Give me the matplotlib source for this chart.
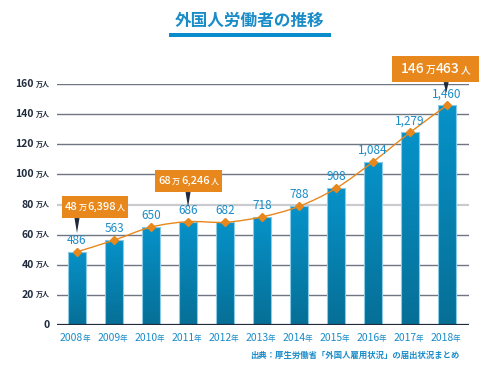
import numpy as np
import matplotlib
matplotlib.use('Agg')
import matplotlib.pyplot as plt
from matplotlib.path import Path
from matplotlib.patches import PathPatch, Rectangle, Polygon
from matplotlib.offsetbox import TextArea, HPacker, AnnotationBbox
from matplotlib.transforms import blended_transform_factory
from matplotlib.colors import LinearSegmentedColormap

plt.rcParams['font.family'] = ['Noto Sans CJK JP', 'DejaVu Sans']

# データ (万人)
years = [2008, 2009, 2010, 2011, 2012, 2013, 2014, 2015, 2016, 2017, 2018]
workers = [48.6, 56.3, 65.0, 68.6, 68.2, 71.8, 78.8, 90.8, 108.4, 127.9, 146.0]
value_labels = ['486', '563', '650', '686', '682', '718', '788', '908', '1,084', '1,279', '1,460']
y_ticks = [0, 20, 40, 60, 80, 100, 120, 140, 160]
# 吹き出し: (年のindex, 万の前, 万の後)
callouts = [(0, '48', '6,398'), (3, '68', '6,246'), (10, '146', '463')]

BLUE = '#1a8cc8'
ORANGE = '#e8881c'
NAVY = '#1f2a3d'

W, H = 500, 374
fig = plt.figure(figsize=(5, 3.74), dpi=100)
ax = fig.add_axes([57 / W, 49 / H, 412 / W, 241 / H])
ax.set_xlim(-0.54, 10.59)
ax.set_ylim(0, 160)
ax.axis('off')

x = np.arange(len(years))

# グリッド線
for t in y_ticks[1:]:
    if t == 80:
        ax.axhline(t, color='#c9cbcf', lw=1.6, zorder=1)
    else:
        ax.axhline(t, color='#6f7581', lw=1.0, zorder=1)
ax.axhline(0, color=NAVY, lw=1.6, zorder=5)

# グラデーションの棒
cmap = LinearSegmentedColormap.from_list('bar', ['#066f96', '#0792c9'])
grad = np.linspace(0, 1, 256).reshape(-1, 1)
bw = 0.49
for xi, v in zip(x, workers):
    rect = Rectangle((xi - bw / 2, 0), bw, v, facecolor='none',
                     edgecolor='#8ccbe6', lw=0.8, zorder=3)
    ax.add_patch(rect)
    im = ax.imshow(grad, cmap=cmap, origin='lower', aspect='auto',
                   extent=[xi - bw / 2, xi + bw / 2, 0, v], zorder=2)
    im.set_clip_path(rect)
ax.set_xlim(-0.54, 10.59)
ax.set_ylim(0, 160)

# 折れ線 (なめらか)
pts = np.column_stack([x, workers]).astype(float)
verts = [pts[0]]
codes = [Path.MOVETO]
for i in range(len(pts) - 1):
    p0 = pts[i - 1] if i > 0 else pts[i]
    p1 = pts[i]
    p2 = pts[i + 1]
    p3 = pts[i + 2] if i + 2 < len(pts) else pts[i + 1]
    verts += [p1 + (p2 - p0) / 6, p2 - (p3 - p1) / 6, p2]
    codes += [Path.CURVE4] * 3
ax.add_patch(PathPatch(Path(verts, codes), facecolor='none', edgecolor=ORANGE,
                       lw=1.0, zorder=6))
ax.plot(x, workers, ls='none', marker='D', ms=4.5, color=ORANGE, zorder=7)

for xi, v, lab in zip(x, workers, value_labels):
    ax.annotate(lab, (xi, v), xytext=(0, 3.5), textcoords='offset points',
                ha='center', va='bottom', fontsize=8.5, color=BLUE, zorder=8)

# Y軸ラベル
ytr = blended_transform_factory(fig.transFigure, ax.transData)
for t in y_ticks:
    if t == 0:
        ax.text(50 / W, t, '0', transform=ytr, ha='right', va='center',
                fontsize=7.5, color=NAVY, fontweight='bold')
    else:
        ax.text(34 / W, t, str(t), transform=ytr, ha='right', va='center',
                fontsize=7.5, color=NAVY, fontweight='bold')
        ax.text(36 / W, t, '万人', transform=ytr, ha='left', va='center',
                fontsize=5, color=NAVY, fontweight='bold')

# X軸ラベル
xtr = blended_transform_factory(ax.transData, fig.transFigure)
for xi, yr in zip(x, years):
    ax.text(xi + 0.17, (H - 338) / H, str(yr), transform=xtr, ha='right',
            va='center', fontsize=7.5, color=BLUE)
    ax.text(xi + 0.15, (H - 338.5) / H, '年', transform=xtr, ha='left',
            va='center', fontsize=5.5, color=BLUE)


# 吹き出し
def px_to_data(px, py):
    return (px - 77) / 37, (325 - py) / 1.507


box_px = {0: (62, 196, 128, 218), 3: (155, 170, 222, 192), 10: (392, 56, 479, 82)}
tip_px = {0: (77, 233), 3: (188, 207), 10: (446, 93)}
for idx, big, small in callouts:
    x0, y0, x1, y1 = box_px[idx]
    dx0, dy1 = px_to_data(x0, y1)
    dx1, dy0 = px_to_data(x1, y0)
    ax.add_patch(Rectangle((dx0, dy1), dx1 - dx0, dy0 - dy1, facecolor=ORANGE,
                           edgecolor='none', clip_on=False, zorder=9))
    tx, ty = tip_px[idx]
    a = px_to_data(tx - 2.5, y1)
    b = px_to_data(tx + 2.5, y1)
    c = px_to_data(tx, ty)
    ax.add_patch(Polygon([a, b, c], closed=True, facecolor=NAVY,
                         edgecolor='none', clip_on=False, zorder=9))
    fs = 10 if idx == 10 else 8
    sfs = 7 if idx == 10 else 5.8
    tp = dict(color='white', fontweight='medium')
    parts = [TextArea(big, textprops=dict(fontsize=fs, **tp)),
             TextArea('万', textprops=dict(fontsize=sfs, **tp)),
             TextArea(small, textprops=dict(fontsize=fs, **tp)),
             TextArea('人', textprops=dict(fontsize=sfs, **tp))]
    pack = HPacker(children=parts, align='baseline', pad=0, sep=0.5)
    cx, cy = px_to_data((x0 + x1) / 2, (y0 + y1) / 2)
    ab = AnnotationBbox(pack, (cx, cy), frameon=False, box_alignment=(0.5, 0.5),
                        annotation_clip=False, zorder=10)
    ax.add_artist(ab)

# タイトル
fig.text(0.5, (H - 21) / H, '外国人労働者の推移', ha='center', va='center',
         fontsize=12, fontweight='bold', color=BLUE)
fig.add_artist(Rectangle((169 / W, (H - 37) / H), 162 / W, 4 / H,
                         transform=fig.transFigure, facecolor='#0a8ccc',
                         edgecolor='none'))

# 出典
fig.text(460 / W, (H - 355) / H, '出典：厚生労働省「外国人雇用状況」の届出状況まとめ',
         ha='right', va='center', fontsize=6, color=BLUE, fontweight='bold')

fig.savefig('out.png', dpi=100)
